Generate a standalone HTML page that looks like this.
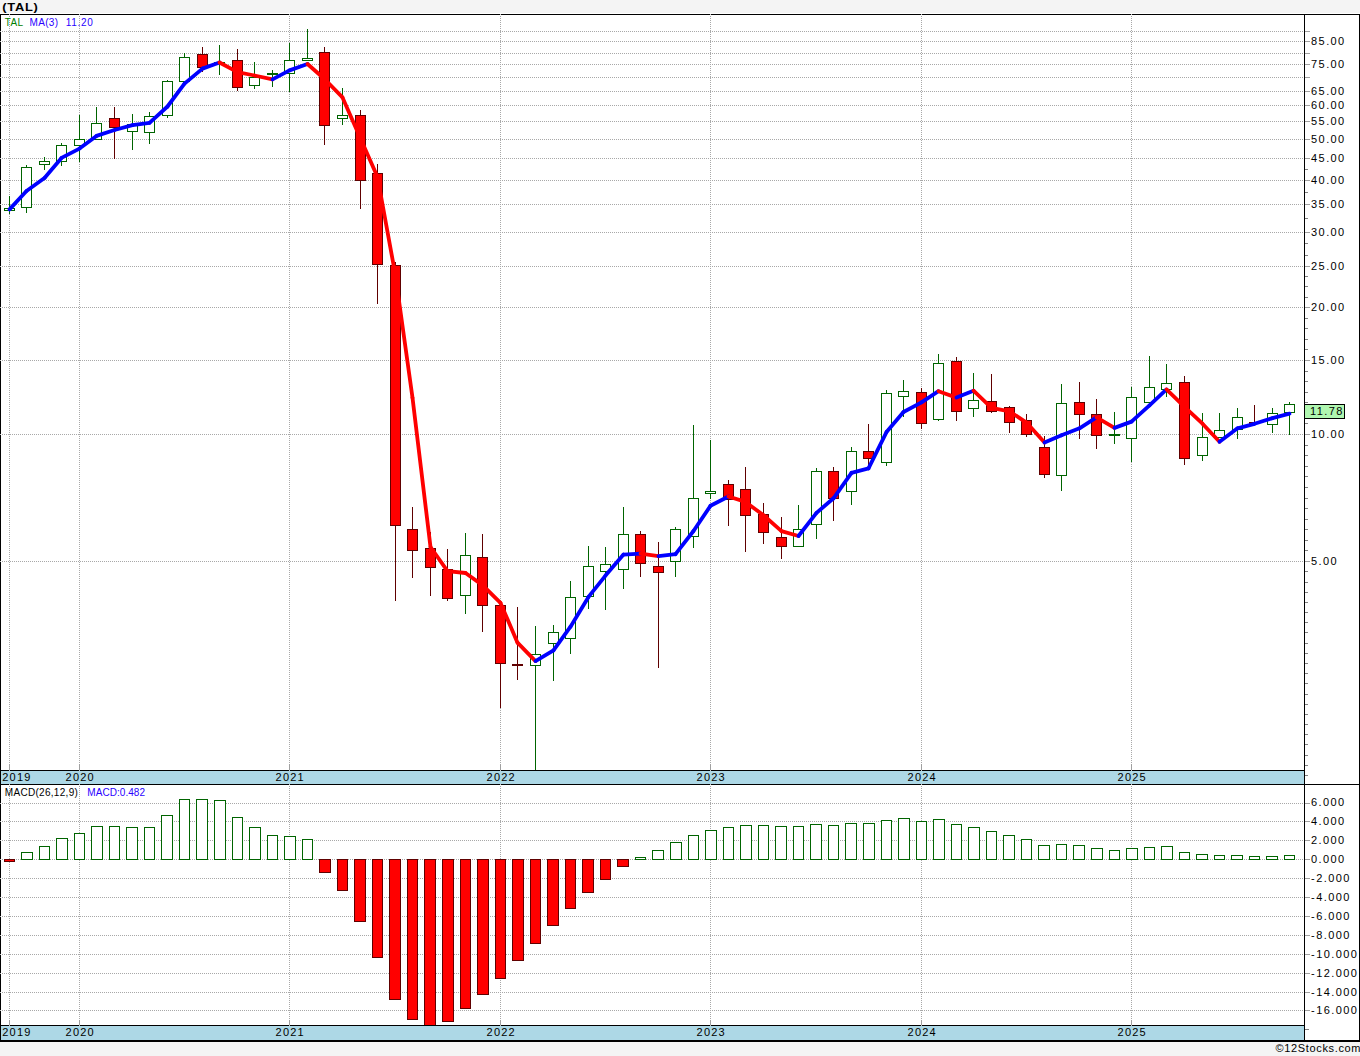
<!DOCTYPE html><html><head><meta charset="utf-8"><style>html,body{margin:0;padding:0;width:1360px;height:1056px;overflow:hidden;background:#f4f4f4}svg text{font-family:"Liberation Sans",sans-serif}</style></head><body><svg width="1360" height="1056" viewBox="0 0 1360 1056" style="position:absolute;left:0;top:0"><rect x="0" y="0" width="1360" height="1056" fill="#f4f4f4"/><rect x="0" y="13" width="1360" height="1" fill="#ffffff"/><rect x="0" y="14" width="1360" height="1028" fill="#ffffff"/><path d="M2 31.5H1304 M2 41.5H1304 M2 53.5H1304 M2 64.5H1304 M2 77.5H1304 M2 91.5H1304 M2 105.5H1304 M2 121.5H1304 M2 139.5H1304 M2 158.5H1304 M2 180.5H1304 M2 204.5H1304 M2 232.5H1304 M2 266.5H1304 M2 307.5H1304 M2 360.5H1304 M2 434.5H1304 M2 561.5H1304 M2 803.5H1304 M2 821.5H1304 M2 840.5H1304 M2 859.5H1304 M2 878.5H1304 M2 897.5H1304 M2 916.5H1304 M2 935.5H1304 M2 954.5H1304 M2 973.5H1304 M2 992.5H1304 M2 1010.5H1304 M9.5 16V770 M9.5 786V1025 M79.5 16V770 M79.5 786V1025 M289.5 16V770 M289.5 786V1025 M500.5 16V770 M500.5 786V1025 M710.5 16V770 M710.5 786V1025 M921.5 16V770 M921.5 786V1025 M1131.5 16V770 M1131.5 786V1025" stroke="#a8a8a8" stroke-width="1" stroke-dasharray="1 1" fill="none" shape-rendering="crispEdges"/><g shape-rendering="crispEdges"><rect x="9" y="764" width="1" height="6" fill="#a0a0a0"/><rect x="9" y="1020" width="1" height="5" fill="#a0a0a0"/><rect x="79" y="764" width="1" height="6" fill="#a0a0a0"/><rect x="79" y="1020" width="1" height="5" fill="#a0a0a0"/><rect x="289" y="764" width="1" height="6" fill="#a0a0a0"/><rect x="289" y="1020" width="1" height="5" fill="#a0a0a0"/><rect x="500" y="764" width="1" height="6" fill="#a0a0a0"/><rect x="500" y="1020" width="1" height="5" fill="#a0a0a0"/><rect x="710" y="764" width="1" height="6" fill="#a0a0a0"/><rect x="710" y="1020" width="1" height="5" fill="#a0a0a0"/><rect x="921" y="764" width="1" height="6" fill="#a0a0a0"/><rect x="921" y="1020" width="1" height="5" fill="#a0a0a0"/><rect x="1131" y="764" width="1" height="6" fill="#a0a0a0"/><rect x="1131" y="1020" width="1" height="5" fill="#a0a0a0"/><rect x="9" y="196" width="1" height="12" fill="#006400"/><rect x="9" y="211" width="1" height="3" fill="#006400"/><rect x="4.5" y="208.5" width="10" height="2" fill="#ffffff" stroke="#006400" stroke-width="1"/><rect x="26" y="165" width="1" height="2" fill="#006400"/><rect x="26" y="208" width="1" height="5" fill="#006400"/><rect x="21.5" y="167.5" width="10" height="40" fill="#ffffff" stroke="#006400" stroke-width="1"/><rect x="44" y="157" width="1" height="4" fill="#006400"/><rect x="44" y="165" width="1" height="5" fill="#006400"/><rect x="39.5" y="161.5" width="10" height="3" fill="#ffffff" stroke="#006400" stroke-width="1"/><rect x="61" y="143" width="1" height="2" fill="#006400"/><rect x="61" y="162" width="1" height="4" fill="#006400"/><rect x="56.5" y="145.5" width="10" height="16" fill="#ffffff" stroke="#006400" stroke-width="1"/><rect x="79" y="115" width="1" height="24" fill="#006400"/><rect x="79" y="146" width="1" height="16" fill="#006400"/><rect x="74.5" y="139.5" width="10" height="6" fill="#ffffff" stroke="#006400" stroke-width="1"/><rect x="96" y="107" width="1" height="16" fill="#006400"/><rect x="91.5" y="123.5" width="10" height="16" fill="#ffffff" stroke="#006400" stroke-width="1"/><rect x="114" y="107" width="1" height="11" fill="#600000"/><rect x="114" y="128" width="1" height="31" fill="#600000"/><rect x="109.5" y="118.5" width="10" height="9" fill="#ff0000" stroke="#600000" stroke-width="1"/><rect x="132" y="114" width="1" height="10" fill="#006400"/><rect x="132" y="132" width="1" height="18" fill="#006400"/><rect x="127.5" y="124.5" width="10" height="7" fill="#ffffff" stroke="#006400" stroke-width="1"/><rect x="149" y="112" width="1" height="4" fill="#006400"/><rect x="149" y="133" width="1" height="11" fill="#006400"/><rect x="144.5" y="116.5" width="10" height="16" fill="#ffffff" stroke="#006400" stroke-width="1"/><rect x="167" y="80" width="1" height="1" fill="#006400"/><rect x="167" y="116" width="1" height="2" fill="#006400"/><rect x="162.5" y="81.5" width="10" height="34" fill="#ffffff" stroke="#006400" stroke-width="1"/><rect x="184" y="53" width="1" height="4" fill="#006400"/><rect x="179.5" y="57.5" width="10" height="24" fill="#ffffff" stroke="#006400" stroke-width="1"/><rect x="202" y="47" width="1" height="7" fill="#600000"/><rect x="202" y="68" width="1" height="4" fill="#600000"/><rect x="197.5" y="54.5" width="10" height="13" fill="#ff0000" stroke="#600000" stroke-width="1"/><rect x="219" y="45" width="1" height="17" fill="#006400"/><rect x="219" y="63" width="1" height="12" fill="#006400"/><rect x="214" y="62" width="11" height="2" fill="#006400"/><rect x="237" y="49" width="1" height="11" fill="#600000"/><rect x="237" y="88" width="1" height="3" fill="#600000"/><rect x="232.5" y="60.5" width="10" height="27" fill="#ff0000" stroke="#600000" stroke-width="1"/><rect x="254" y="62" width="1" height="15" fill="#006400"/><rect x="254" y="86" width="1" height="3" fill="#006400"/><rect x="249.5" y="77.5" width="10" height="8" fill="#ffffff" stroke="#006400" stroke-width="1"/><rect x="272" y="70" width="1" height="3" fill="#006400"/><rect x="272" y="75" width="1" height="12" fill="#006400"/><rect x="267" y="73" width="11" height="2" fill="#006400"/><rect x="289" y="43" width="1" height="17" fill="#006400"/><rect x="289" y="74" width="1" height="18" fill="#006400"/><rect x="284.5" y="60.5" width="10" height="13" fill="#ffffff" stroke="#006400" stroke-width="1"/><rect x="307" y="29" width="1" height="29" fill="#006400"/><rect x="302.5" y="58.5" width="10" height="2" fill="#ffffff" stroke="#006400" stroke-width="1"/><rect x="324" y="47" width="1" height="5" fill="#600000"/><rect x="324" y="126" width="1" height="19" fill="#600000"/><rect x="319.5" y="52.5" width="10" height="73" fill="#ff0000" stroke="#600000" stroke-width="1"/><rect x="342" y="88" width="1" height="27" fill="#006400"/><rect x="342" y="119" width="1" height="6" fill="#006400"/><rect x="337.5" y="115.5" width="10" height="3" fill="#ffffff" stroke="#006400" stroke-width="1"/><rect x="360" y="110" width="1" height="5" fill="#600000"/><rect x="360" y="181" width="1" height="28" fill="#600000"/><rect x="355.5" y="115.5" width="10" height="65" fill="#ff0000" stroke="#600000" stroke-width="1"/><rect x="377" y="164" width="1" height="9" fill="#600000"/><rect x="377" y="265" width="1" height="39" fill="#600000"/><rect x="372.5" y="173.5" width="10" height="91" fill="#ff0000" stroke="#600000" stroke-width="1"/><rect x="395" y="262" width="1" height="3" fill="#600000"/><rect x="395" y="526" width="1" height="75" fill="#600000"/><rect x="390.5" y="265.5" width="10" height="260" fill="#ff0000" stroke="#600000" stroke-width="1"/><rect x="412" y="507" width="1" height="22" fill="#600000"/><rect x="412" y="551" width="1" height="27" fill="#600000"/><rect x="407.5" y="529.5" width="10" height="21" fill="#ff0000" stroke="#600000" stroke-width="1"/><rect x="430" y="532" width="1" height="16" fill="#600000"/><rect x="430" y="568" width="1" height="28" fill="#600000"/><rect x="425.5" y="548.5" width="10" height="19" fill="#ff0000" stroke="#600000" stroke-width="1"/><rect x="447" y="549" width="1" height="20" fill="#600000"/><rect x="447" y="599" width="1" height="2" fill="#600000"/><rect x="442.5" y="569.5" width="10" height="29" fill="#ff0000" stroke="#600000" stroke-width="1"/><rect x="465" y="533" width="1" height="22" fill="#006400"/><rect x="465" y="596" width="1" height="18" fill="#006400"/><rect x="460.5" y="555.5" width="10" height="40" fill="#ffffff" stroke="#006400" stroke-width="1"/><rect x="482" y="534" width="1" height="23" fill="#600000"/><rect x="482" y="606" width="1" height="26" fill="#600000"/><rect x="477.5" y="557.5" width="10" height="48" fill="#ff0000" stroke="#600000" stroke-width="1"/><rect x="500" y="664" width="1" height="44" fill="#600000"/><rect x="495.5" y="605.5" width="10" height="58" fill="#ff0000" stroke="#600000" stroke-width="1"/><rect x="517" y="607" width="1" height="57" fill="#600000"/><rect x="517" y="666" width="1" height="14" fill="#600000"/><rect x="512" y="664" width="11" height="2" fill="#600000"/><rect x="535" y="626" width="1" height="28" fill="#006400"/><rect x="535" y="666" width="1" height="105" fill="#006400"/><rect x="530.5" y="654.5" width="10" height="11" fill="#ffffff" stroke="#006400" stroke-width="1"/><rect x="553" y="625" width="1" height="7" fill="#006400"/><rect x="553" y="644" width="1" height="37" fill="#006400"/><rect x="548.5" y="632.5" width="10" height="11" fill="#ffffff" stroke="#006400" stroke-width="1"/><rect x="570" y="581" width="1" height="16" fill="#006400"/><rect x="570" y="639" width="1" height="15" fill="#006400"/><rect x="565.5" y="597.5" width="10" height="41" fill="#ffffff" stroke="#006400" stroke-width="1"/><rect x="588" y="546" width="1" height="20" fill="#006400"/><rect x="588" y="597" width="1" height="12" fill="#006400"/><rect x="583.5" y="566.5" width="10" height="30" fill="#ffffff" stroke="#006400" stroke-width="1"/><rect x="605" y="547" width="1" height="17" fill="#006400"/><rect x="605" y="572" width="1" height="38" fill="#006400"/><rect x="600.5" y="564.5" width="10" height="7" fill="#ffffff" stroke="#006400" stroke-width="1"/><rect x="623" y="507" width="1" height="27" fill="#006400"/><rect x="623" y="570" width="1" height="19" fill="#006400"/><rect x="618.5" y="534.5" width="10" height="35" fill="#ffffff" stroke="#006400" stroke-width="1"/><rect x="640" y="531" width="1" height="3" fill="#600000"/><rect x="640" y="564" width="1" height="13" fill="#600000"/><rect x="635.5" y="534.5" width="10" height="29" fill="#ff0000" stroke="#600000" stroke-width="1"/><rect x="658" y="542" width="1" height="24" fill="#600000"/><rect x="658" y="573" width="1" height="95" fill="#600000"/><rect x="653.5" y="566.5" width="10" height="6" fill="#ff0000" stroke="#600000" stroke-width="1"/><rect x="675" y="527" width="1" height="2" fill="#006400"/><rect x="675" y="562" width="1" height="15" fill="#006400"/><rect x="670.5" y="529.5" width="10" height="32" fill="#ffffff" stroke="#006400" stroke-width="1"/><rect x="693" y="425" width="1" height="73" fill="#006400"/><rect x="693" y="537" width="1" height="11" fill="#006400"/><rect x="688.5" y="498.5" width="10" height="38" fill="#ffffff" stroke="#006400" stroke-width="1"/><rect x="710" y="440" width="1" height="51" fill="#006400"/><rect x="710" y="494" width="1" height="5" fill="#006400"/><rect x="705.5" y="491.5" width="10" height="2" fill="#ffffff" stroke="#006400" stroke-width="1"/><rect x="728" y="480" width="1" height="4" fill="#600000"/><rect x="728" y="500" width="1" height="26" fill="#600000"/><rect x="723.5" y="484.5" width="10" height="15" fill="#ff0000" stroke="#600000" stroke-width="1"/><rect x="745" y="467" width="1" height="22" fill="#600000"/><rect x="745" y="516" width="1" height="36" fill="#600000"/><rect x="740.5" y="489.5" width="10" height="26" fill="#ff0000" stroke="#600000" stroke-width="1"/><rect x="763" y="503" width="1" height="11" fill="#600000"/><rect x="763" y="533" width="1" height="11" fill="#600000"/><rect x="758.5" y="514.5" width="10" height="18" fill="#ff0000" stroke="#600000" stroke-width="1"/><rect x="781" y="517" width="1" height="20" fill="#600000"/><rect x="781" y="547" width="1" height="12" fill="#600000"/><rect x="776.5" y="537.5" width="10" height="9" fill="#ff0000" stroke="#600000" stroke-width="1"/><rect x="798" y="505" width="1" height="24" fill="#006400"/><rect x="793.5" y="529.5" width="10" height="17" fill="#ffffff" stroke="#006400" stroke-width="1"/><rect x="816" y="468" width="1" height="3" fill="#006400"/><rect x="816" y="525" width="1" height="14" fill="#006400"/><rect x="811.5" y="471.5" width="10" height="53" fill="#ffffff" stroke="#006400" stroke-width="1"/><rect x="833" y="467" width="1" height="4" fill="#600000"/><rect x="833" y="499" width="1" height="22" fill="#600000"/><rect x="828.5" y="471.5" width="10" height="27" fill="#ff0000" stroke="#600000" stroke-width="1"/><rect x="851" y="447" width="1" height="4" fill="#006400"/><rect x="851" y="492" width="1" height="13" fill="#006400"/><rect x="846.5" y="451.5" width="10" height="40" fill="#ffffff" stroke="#006400" stroke-width="1"/><rect x="868" y="424" width="1" height="27" fill="#600000"/><rect x="868" y="459" width="1" height="7" fill="#600000"/><rect x="863.5" y="451.5" width="10" height="7" fill="#ff0000" stroke="#600000" stroke-width="1"/><rect x="886" y="390" width="1" height="3" fill="#006400"/><rect x="886" y="463" width="1" height="3" fill="#006400"/><rect x="881.5" y="393.5" width="10" height="69" fill="#ffffff" stroke="#006400" stroke-width="1"/><rect x="903" y="380" width="1" height="11" fill="#006400"/><rect x="903" y="397" width="1" height="20" fill="#006400"/><rect x="898.5" y="391.5" width="10" height="5" fill="#ffffff" stroke="#006400" stroke-width="1"/><rect x="921" y="388" width="1" height="4" fill="#600000"/><rect x="921" y="424" width="1" height="5" fill="#600000"/><rect x="916.5" y="392.5" width="10" height="31" fill="#ff0000" stroke="#600000" stroke-width="1"/><rect x="938" y="354" width="1" height="9" fill="#006400"/><rect x="938" y="420" width="1" height="1" fill="#006400"/><rect x="933.5" y="363.5" width="10" height="56" fill="#ffffff" stroke="#006400" stroke-width="1"/><rect x="956" y="357" width="1" height="4" fill="#600000"/><rect x="956" y="412" width="1" height="9" fill="#600000"/><rect x="951.5" y="361.5" width="10" height="50" fill="#ff0000" stroke="#600000" stroke-width="1"/><rect x="973" y="373" width="1" height="27" fill="#006400"/><rect x="973" y="409" width="1" height="8" fill="#006400"/><rect x="968.5" y="400.5" width="10" height="8" fill="#ffffff" stroke="#006400" stroke-width="1"/><rect x="991" y="374" width="1" height="27" fill="#600000"/><rect x="991" y="412" width="1" height="1" fill="#600000"/><rect x="986.5" y="401.5" width="10" height="10" fill="#ff0000" stroke="#600000" stroke-width="1"/><rect x="1009" y="406" width="1" height="1" fill="#600000"/><rect x="1009" y="423" width="1" height="10" fill="#600000"/><rect x="1004.5" y="407.5" width="10" height="15" fill="#ff0000" stroke="#600000" stroke-width="1"/><rect x="1026" y="414" width="1" height="6" fill="#600000"/><rect x="1026" y="435" width="1" height="2" fill="#600000"/><rect x="1021.5" y="420.5" width="10" height="14" fill="#ff0000" stroke="#600000" stroke-width="1"/><rect x="1044" y="436" width="1" height="11" fill="#600000"/><rect x="1044" y="475" width="1" height="3" fill="#600000"/><rect x="1039.5" y="447.5" width="10" height="27" fill="#ff0000" stroke="#600000" stroke-width="1"/><rect x="1061" y="384" width="1" height="19" fill="#006400"/><rect x="1061" y="476" width="1" height="15" fill="#006400"/><rect x="1056.5" y="403.5" width="10" height="72" fill="#ffffff" stroke="#006400" stroke-width="1"/><rect x="1079" y="382" width="1" height="20" fill="#600000"/><rect x="1079" y="415" width="1" height="24" fill="#600000"/><rect x="1074.5" y="402.5" width="10" height="12" fill="#ff0000" stroke="#600000" stroke-width="1"/><rect x="1096" y="399" width="1" height="15" fill="#600000"/><rect x="1096" y="436" width="1" height="13" fill="#600000"/><rect x="1091.5" y="414.5" width="10" height="21" fill="#ff0000" stroke="#600000" stroke-width="1"/><rect x="1114" y="412" width="1" height="22" fill="#006400"/><rect x="1114" y="435" width="1" height="9" fill="#006400"/><rect x="1109" y="434" width="11" height="2" fill="#006400"/><rect x="1131" y="387" width="1" height="10" fill="#006400"/><rect x="1131" y="439" width="1" height="23" fill="#006400"/><rect x="1126.5" y="397.5" width="10" height="41" fill="#ffffff" stroke="#006400" stroke-width="1"/><rect x="1149" y="356" width="1" height="31" fill="#006400"/><rect x="1144.5" y="387.5" width="10" height="15" fill="#ffffff" stroke="#006400" stroke-width="1"/><rect x="1166" y="364" width="1" height="19" fill="#006400"/><rect x="1166" y="390" width="1" height="7" fill="#006400"/><rect x="1161.5" y="383.5" width="10" height="6" fill="#ffffff" stroke="#006400" stroke-width="1"/><rect x="1184" y="376" width="1" height="6" fill="#600000"/><rect x="1184" y="459" width="1" height="6" fill="#600000"/><rect x="1179.5" y="382.5" width="10" height="76" fill="#ff0000" stroke="#600000" stroke-width="1"/><rect x="1202" y="413" width="1" height="24" fill="#006400"/><rect x="1202" y="456" width="1" height="5" fill="#006400"/><rect x="1197.5" y="437.5" width="10" height="18" fill="#ffffff" stroke="#006400" stroke-width="1"/><rect x="1219" y="413" width="1" height="17" fill="#006400"/><rect x="1214.5" y="430.5" width="10" height="7" fill="#ffffff" stroke="#006400" stroke-width="1"/><rect x="1237" y="408" width="1" height="9" fill="#006400"/><rect x="1237" y="430" width="1" height="9" fill="#006400"/><rect x="1232.5" y="417.5" width="10" height="12" fill="#ffffff" stroke="#006400" stroke-width="1"/><rect x="1254" y="405" width="1" height="17" fill="#600000"/><rect x="1249" y="422" width="11" height="2" fill="#600000"/><rect x="1272" y="408" width="1" height="5" fill="#006400"/><rect x="1272" y="425" width="1" height="8" fill="#006400"/><rect x="1267.5" y="413.5" width="10" height="11" fill="#ffffff" stroke="#006400" stroke-width="1"/><rect x="1289" y="402" width="1" height="2" fill="#006400"/><rect x="1289" y="413" width="1" height="22" fill="#006400"/><rect x="1284.5" y="404.5" width="10" height="8" fill="#ffffff" stroke="#006400" stroke-width="1"/><rect x="4.5" y="859.5" width="10" height="2" fill="#ff0000" stroke="#600000" stroke-width="1"/><rect x="21.5" y="852.5" width="11" height="7" fill="#ffffff" stroke="#006400" stroke-width="1"/><rect x="39.5" y="846.5" width="10" height="13" fill="#ffffff" stroke="#006400" stroke-width="1"/><rect x="56.5" y="838.5" width="11" height="21" fill="#ffffff" stroke="#006400" stroke-width="1"/><rect x="74.5" y="833.5" width="10" height="26" fill="#ffffff" stroke="#006400" stroke-width="1"/><rect x="91.5" y="826.5" width="11" height="33" fill="#ffffff" stroke="#006400" stroke-width="1"/><rect x="109.5" y="826.5" width="10" height="33" fill="#ffffff" stroke="#006400" stroke-width="1"/><rect x="126.5" y="827.5" width="11" height="32" fill="#ffffff" stroke="#006400" stroke-width="1"/><rect x="144.5" y="827.5" width="10" height="32" fill="#ffffff" stroke="#006400" stroke-width="1"/><rect x="161.5" y="815.5" width="11" height="44" fill="#ffffff" stroke="#006400" stroke-width="1"/><rect x="179.5" y="799.5" width="10" height="60" fill="#ffffff" stroke="#006400" stroke-width="1"/><rect x="196.5" y="799.5" width="11" height="60" fill="#ffffff" stroke="#006400" stroke-width="1"/><rect x="214.5" y="800.5" width="11" height="59" fill="#ffffff" stroke="#006400" stroke-width="1"/><rect x="232.5" y="817.5" width="10" height="42" fill="#ffffff" stroke="#006400" stroke-width="1"/><rect x="249.5" y="827.5" width="11" height="32" fill="#ffffff" stroke="#006400" stroke-width="1"/><rect x="267.5" y="835.5" width="10" height="24" fill="#ffffff" stroke="#006400" stroke-width="1"/><rect x="284.5" y="836.5" width="11" height="23" fill="#ffffff" stroke="#006400" stroke-width="1"/><rect x="302.5" y="839.5" width="10" height="20" fill="#ffffff" stroke="#006400" stroke-width="1"/><rect x="319.5" y="859.5" width="11" height="13" fill="#ff0000" stroke="#600000" stroke-width="1"/><rect x="337.5" y="859.5" width="10" height="31" fill="#ff0000" stroke="#600000" stroke-width="1"/><rect x="354.5" y="859.5" width="11" height="62" fill="#ff0000" stroke="#600000" stroke-width="1"/><rect x="372.5" y="859.5" width="10" height="98" fill="#ff0000" stroke="#600000" stroke-width="1"/><rect x="389.5" y="859.5" width="11" height="140" fill="#ff0000" stroke="#600000" stroke-width="1"/><rect x="407.5" y="859.5" width="10" height="160" fill="#ff0000" stroke="#600000" stroke-width="1"/><rect x="424.5" y="859.5" width="11" height="166" fill="#ff0000" stroke="#600000" stroke-width="1"/><rect x="442.5" y="859.5" width="11" height="162" fill="#ff0000" stroke="#600000" stroke-width="1"/><rect x="460.5" y="859.5" width="10" height="149" fill="#ff0000" stroke="#600000" stroke-width="1"/><rect x="477.5" y="859.5" width="11" height="135" fill="#ff0000" stroke="#600000" stroke-width="1"/><rect x="495.5" y="859.5" width="10" height="119" fill="#ff0000" stroke="#600000" stroke-width="1"/><rect x="512.5" y="859.5" width="11" height="101" fill="#ff0000" stroke="#600000" stroke-width="1"/><rect x="530.5" y="859.5" width="10" height="84" fill="#ff0000" stroke="#600000" stroke-width="1"/><rect x="547.5" y="859.5" width="11" height="66" fill="#ff0000" stroke="#600000" stroke-width="1"/><rect x="565.5" y="859.5" width="10" height="49" fill="#ff0000" stroke="#600000" stroke-width="1"/><rect x="582.5" y="859.5" width="11" height="33" fill="#ff0000" stroke="#600000" stroke-width="1"/><rect x="600.5" y="859.5" width="10" height="20" fill="#ff0000" stroke="#600000" stroke-width="1"/><rect x="617.5" y="859.5" width="11" height="7" fill="#ff0000" stroke="#600000" stroke-width="1"/><rect x="635.5" y="857.5" width="10" height="2" fill="#ffffff" stroke="#006400" stroke-width="1"/><rect x="652.5" y="850.5" width="11" height="9" fill="#ffffff" stroke="#006400" stroke-width="1"/><rect x="670.5" y="842.5" width="11" height="17" fill="#ffffff" stroke="#006400" stroke-width="1"/><rect x="688.5" y="835.5" width="10" height="24" fill="#ffffff" stroke="#006400" stroke-width="1"/><rect x="705.5" y="830.5" width="11" height="29" fill="#ffffff" stroke="#006400" stroke-width="1"/><rect x="723.5" y="827.5" width="10" height="32" fill="#ffffff" stroke="#006400" stroke-width="1"/><rect x="740.5" y="825.5" width="11" height="34" fill="#ffffff" stroke="#006400" stroke-width="1"/><rect x="758.5" y="825.5" width="10" height="34" fill="#ffffff" stroke="#006400" stroke-width="1"/><rect x="775.5" y="826.5" width="11" height="33" fill="#ffffff" stroke="#006400" stroke-width="1"/><rect x="793.5" y="826.5" width="10" height="33" fill="#ffffff" stroke="#006400" stroke-width="1"/><rect x="810.5" y="824.5" width="11" height="35" fill="#ffffff" stroke="#006400" stroke-width="1"/><rect x="828.5" y="825.5" width="10" height="34" fill="#ffffff" stroke="#006400" stroke-width="1"/><rect x="845.5" y="823.5" width="11" height="36" fill="#ffffff" stroke="#006400" stroke-width="1"/><rect x="863.5" y="823.5" width="11" height="36" fill="#ffffff" stroke="#006400" stroke-width="1"/><rect x="881.5" y="820.5" width="10" height="39" fill="#ffffff" stroke="#006400" stroke-width="1"/><rect x="898.5" y="818.5" width="11" height="41" fill="#ffffff" stroke="#006400" stroke-width="1"/><rect x="916.5" y="821.5" width="10" height="38" fill="#ffffff" stroke="#006400" stroke-width="1"/><rect x="933.5" y="819.5" width="11" height="40" fill="#ffffff" stroke="#006400" stroke-width="1"/><rect x="951.5" y="824.5" width="10" height="35" fill="#ffffff" stroke="#006400" stroke-width="1"/><rect x="968.5" y="827.5" width="11" height="32" fill="#ffffff" stroke="#006400" stroke-width="1"/><rect x="986.5" y="831.5" width="10" height="28" fill="#ffffff" stroke="#006400" stroke-width="1"/><rect x="1003.5" y="835.5" width="11" height="24" fill="#ffffff" stroke="#006400" stroke-width="1"/><rect x="1021.5" y="839.5" width="10" height="20" fill="#ffffff" stroke="#006400" stroke-width="1"/><rect x="1038.5" y="845.5" width="11" height="14" fill="#ffffff" stroke="#006400" stroke-width="1"/><rect x="1056.5" y="844.5" width="10" height="15" fill="#ffffff" stroke="#006400" stroke-width="1"/><rect x="1073.5" y="845.5" width="11" height="14" fill="#ffffff" stroke="#006400" stroke-width="1"/><rect x="1091.5" y="848.5" width="11" height="11" fill="#ffffff" stroke="#006400" stroke-width="1"/><rect x="1109.5" y="850.5" width="10" height="9" fill="#ffffff" stroke="#006400" stroke-width="1"/><rect x="1126.5" y="848.5" width="11" height="11" fill="#ffffff" stroke="#006400" stroke-width="1"/><rect x="1144.5" y="847.5" width="10" height="12" fill="#ffffff" stroke="#006400" stroke-width="1"/><rect x="1161.5" y="846.5" width="11" height="13" fill="#ffffff" stroke="#006400" stroke-width="1"/><rect x="1179.5" y="852.5" width="10" height="7" fill="#ffffff" stroke="#006400" stroke-width="1"/><rect x="1196.5" y="854.5" width="11" height="5" fill="#ffffff" stroke="#006400" stroke-width="1"/><rect x="1214.5" y="855.5" width="10" height="4" fill="#ffffff" stroke="#006400" stroke-width="1"/><rect x="1231.5" y="855.5" width="11" height="4" fill="#ffffff" stroke="#006400" stroke-width="1"/><rect x="1249.5" y="856.5" width="10" height="3" fill="#ffffff" stroke="#006400" stroke-width="1"/><rect x="1266.5" y="856.5" width="11" height="3" fill="#ffffff" stroke="#006400" stroke-width="1"/><rect x="1284.5" y="855.5" width="10" height="4" fill="#ffffff" stroke="#006400" stroke-width="1"/></g><line x1="9.5" y1="209.4" x2="26.5" y2="191.0" stroke="#0000ff" stroke-width="3.8" stroke-linecap="round"/><line x1="26.5" y1="191.0" x2="44.5" y2="178.0" stroke="#0000ff" stroke-width="3.8" stroke-linecap="round"/><line x1="44.5" y1="178.0" x2="61.5" y2="157.9" stroke="#0000ff" stroke-width="3.8" stroke-linecap="round"/><line x1="61.5" y1="157.9" x2="79.5" y2="148.6" stroke="#0000ff" stroke-width="3.8" stroke-linecap="round"/><line x1="79.5" y1="148.6" x2="96.5" y2="135.9" stroke="#0000ff" stroke-width="3.8" stroke-linecap="round"/><line x1="96.5" y1="135.9" x2="114.5" y2="130.0" stroke="#0000ff" stroke-width="3.8" stroke-linecap="round"/><line x1="114.5" y1="130.0" x2="132.5" y2="125.2" stroke="#0000ff" stroke-width="3.8" stroke-linecap="round"/><line x1="132.5" y1="125.2" x2="149.5" y2="122.8" stroke="#0000ff" stroke-width="3.8" stroke-linecap="round"/><line x1="149.5" y1="122.8" x2="167.5" y2="106.5" stroke="#0000ff" stroke-width="3.8" stroke-linecap="round"/><line x1="167.5" y1="106.5" x2="184.5" y2="83.6" stroke="#0000ff" stroke-width="3.8" stroke-linecap="round"/><line x1="184.5" y1="83.6" x2="202.5" y2="68.6" stroke="#0000ff" stroke-width="3.8" stroke-linecap="round"/><line x1="202.5" y1="68.6" x2="219.5" y2="62.5" stroke="#0000ff" stroke-width="3.8" stroke-linecap="round"/><line x1="219.5" y1="62.5" x2="237.5" y2="72.2" stroke="#ff0000" stroke-width="3.8" stroke-linecap="round"/><line x1="237.5" y1="72.2" x2="254.5" y2="75.5" stroke="#ff0000" stroke-width="3.8" stroke-linecap="round"/><line x1="254.5" y1="75.5" x2="272.5" y2="79.4" stroke="#ff0000" stroke-width="3.8" stroke-linecap="round"/><line x1="272.5" y1="79.4" x2="289.5" y2="70.4" stroke="#0000ff" stroke-width="3.8" stroke-linecap="round"/><line x1="289.5" y1="70.4" x2="307.5" y2="64.0" stroke="#0000ff" stroke-width="3.8" stroke-linecap="round"/><line x1="307.5" y1="64.0" x2="324.5" y2="79.0" stroke="#ff0000" stroke-width="3.8" stroke-linecap="round"/><line x1="324.5" y1="79.0" x2="342.5" y2="97.4" stroke="#ff0000" stroke-width="3.8" stroke-linecap="round"/><line x1="342.5" y1="97.4" x2="360.5" y2="138.4" stroke="#ff0000" stroke-width="3.8" stroke-linecap="round"/><line x1="360.5" y1="138.4" x2="377.5" y2="177.0" stroke="#ff0000" stroke-width="3.8" stroke-linecap="round"/><line x1="377.5" y1="177.0" x2="395.5" y2="275.7" stroke="#ff0000" stroke-width="3.8" stroke-linecap="round"/><line x1="395.5" y1="275.7" x2="412.5" y2="397.7" stroke="#ff0000" stroke-width="3.8" stroke-linecap="round"/><line x1="412.5" y1="397.7" x2="430.5" y2="547.0" stroke="#ff0000" stroke-width="3.8" stroke-linecap="round"/><line x1="430.5" y1="547.0" x2="447.5" y2="571.1" stroke="#ff0000" stroke-width="3.8" stroke-linecap="round"/><line x1="447.5" y1="571.1" x2="465.5" y2="573.0" stroke="#ff0000" stroke-width="3.8" stroke-linecap="round"/><line x1="465.5" y1="573.0" x2="482.5" y2="585.1" stroke="#ff0000" stroke-width="3.8" stroke-linecap="round"/><line x1="482.5" y1="585.1" x2="500.5" y2="602.9" stroke="#ff0000" stroke-width="3.8" stroke-linecap="round"/><line x1="500.5" y1="602.9" x2="517.5" y2="642.7" stroke="#ff0000" stroke-width="3.8" stroke-linecap="round"/><line x1="517.5" y1="642.7" x2="535.5" y2="661.1" stroke="#ff0000" stroke-width="3.8" stroke-linecap="round"/><line x1="535.5" y1="661.1" x2="553.5" y2="650.3" stroke="#0000ff" stroke-width="3.8" stroke-linecap="round"/><line x1="553.5" y1="650.3" x2="570.5" y2="626.7" stroke="#0000ff" stroke-width="3.8" stroke-linecap="round"/><line x1="570.5" y1="626.7" x2="588.5" y2="596.9" stroke="#0000ff" stroke-width="3.8" stroke-linecap="round"/><line x1="588.5" y1="596.9" x2="605.5" y2="575.6" stroke="#0000ff" stroke-width="3.8" stroke-linecap="round"/><line x1="605.5" y1="575.6" x2="623.5" y2="554.6" stroke="#0000ff" stroke-width="3.8" stroke-linecap="round"/><line x1="623.5" y1="554.6" x2="640.5" y2="553.6" stroke="#0000ff" stroke-width="3.8" stroke-linecap="round"/><line x1="640.5" y1="553.6" x2="658.5" y2="556.1" stroke="#ff0000" stroke-width="3.8" stroke-linecap="round"/><line x1="658.5" y1="556.1" x2="675.5" y2="554.2" stroke="#0000ff" stroke-width="3.8" stroke-linecap="round"/><line x1="675.5" y1="554.2" x2="693.5" y2="531.0" stroke="#0000ff" stroke-width="3.8" stroke-linecap="round"/><line x1="693.5" y1="531.0" x2="710.5" y2="505.8" stroke="#0000ff" stroke-width="3.8" stroke-linecap="round"/><line x1="710.5" y1="505.8" x2="728.5" y2="496.5" stroke="#0000ff" stroke-width="3.8" stroke-linecap="round"/><line x1="728.5" y1="496.5" x2="745.5" y2="501.9" stroke="#ff0000" stroke-width="3.8" stroke-linecap="round"/><line x1="745.5" y1="501.9" x2="763.5" y2="515.3" stroke="#ff0000" stroke-width="3.8" stroke-linecap="round"/><line x1="763.5" y1="515.3" x2="781.5" y2="531.1" stroke="#ff0000" stroke-width="3.8" stroke-linecap="round"/><line x1="781.5" y1="531.1" x2="798.5" y2="536.0" stroke="#ff0000" stroke-width="3.8" stroke-linecap="round"/><line x1="798.5" y1="536.0" x2="816.5" y2="512.9" stroke="#0000ff" stroke-width="3.8" stroke-linecap="round"/><line x1="816.5" y1="512.9" x2="833.5" y2="498.3" stroke="#0000ff" stroke-width="3.8" stroke-linecap="round"/><line x1="833.5" y1="498.3" x2="851.5" y2="472.8" stroke="#0000ff" stroke-width="3.8" stroke-linecap="round"/><line x1="851.5" y1="472.8" x2="868.5" y2="468.4" stroke="#0000ff" stroke-width="3.8" stroke-linecap="round"/><line x1="868.5" y1="468.4" x2="886.5" y2="432.1" stroke="#0000ff" stroke-width="3.8" stroke-linecap="round"/><line x1="886.5" y1="432.1" x2="903.5" y2="412.0" stroke="#0000ff" stroke-width="3.8" stroke-linecap="round"/><line x1="903.5" y1="412.0" x2="921.5" y2="402.3" stroke="#0000ff" stroke-width="3.8" stroke-linecap="round"/><line x1="921.5" y1="402.3" x2="938.5" y2="391.2" stroke="#0000ff" stroke-width="3.8" stroke-linecap="round"/><line x1="938.5" y1="391.2" x2="956.5" y2="397.6" stroke="#ff0000" stroke-width="3.8" stroke-linecap="round"/><line x1="956.5" y1="397.6" x2="973.5" y2="390.7" stroke="#0000ff" stroke-width="3.8" stroke-linecap="round"/><line x1="973.5" y1="390.7" x2="991.5" y2="407.8" stroke="#ff0000" stroke-width="3.8" stroke-linecap="round"/><line x1="991.5" y1="407.8" x2="1009.5" y2="411.3" stroke="#ff0000" stroke-width="3.8" stroke-linecap="round"/><line x1="1009.5" y1="411.3" x2="1026.5" y2="422.6" stroke="#ff0000" stroke-width="3.8" stroke-linecap="round"/><line x1="1026.5" y1="422.6" x2="1044.5" y2="442.5" stroke="#ff0000" stroke-width="3.8" stroke-linecap="round"/><line x1="1044.5" y1="442.5" x2="1061.5" y2="435.2" stroke="#0000ff" stroke-width="3.8" stroke-linecap="round"/><line x1="1061.5" y1="435.2" x2="1079.5" y2="428.3" stroke="#0000ff" stroke-width="3.8" stroke-linecap="round"/><line x1="1079.5" y1="428.3" x2="1096.5" y2="417.4" stroke="#0000ff" stroke-width="3.8" stroke-linecap="round"/><line x1="1096.5" y1="417.4" x2="1114.5" y2="427.9" stroke="#ff0000" stroke-width="3.8" stroke-linecap="round"/><line x1="1114.5" y1="427.9" x2="1131.5" y2="421.6" stroke="#0000ff" stroke-width="3.8" stroke-linecap="round"/><line x1="1131.5" y1="421.6" x2="1149.5" y2="405.4" stroke="#0000ff" stroke-width="3.8" stroke-linecap="round"/><line x1="1149.5" y1="405.4" x2="1166.5" y2="389.4" stroke="#0000ff" stroke-width="3.8" stroke-linecap="round"/><line x1="1166.5" y1="389.4" x2="1184.5" y2="406.8" stroke="#ff0000" stroke-width="3.8" stroke-linecap="round"/><line x1="1184.5" y1="406.8" x2="1202.5" y2="423.7" stroke="#ff0000" stroke-width="3.8" stroke-linecap="round"/><line x1="1202.5" y1="423.7" x2="1219.5" y2="441.8" stroke="#ff0000" stroke-width="3.8" stroke-linecap="round"/><line x1="1219.5" y1="441.8" x2="1237.5" y2="428.3" stroke="#0000ff" stroke-width="3.8" stroke-linecap="round"/><line x1="1237.5" y1="428.3" x2="1254.5" y2="423.8" stroke="#0000ff" stroke-width="3.8" stroke-linecap="round"/><line x1="1254.5" y1="423.8" x2="1272.5" y2="418.1" stroke="#0000ff" stroke-width="3.8" stroke-linecap="round"/><line x1="1272.5" y1="418.1" x2="1289.5" y2="413.7" stroke="#0000ff" stroke-width="3.8" stroke-linecap="round"/><g shape-rendering="crispEdges"><rect x="0" y="14" width="1360" height="1" fill="#000"/><rect x="0" y="14" width="1" height="1028" fill="#000"/><rect x="1359" y="14" width="1" height="1028" fill="#000"/><rect x="1304" y="14" width="1" height="1028" fill="#000"/><rect x="1" y="771" width="1303" height="13" fill="#add8e6"/><rect x="0" y="770" width="1304" height="1" fill="#000"/><rect x="0" y="784" width="1360" height="1" fill="#000"/><rect x="1" y="1026" width="1303" height="14" fill="#add8e6"/><rect x="0" y="1025" width="1304" height="1" fill="#000"/><rect x="0" y="1040" width="1360" height="2" fill="#000"/><rect x="1305" y="31" width="5" height="1" fill="#a0a0a0"/><rect x="1305" y="41" width="5" height="1" fill="#a0a0a0"/><rect x="1305" y="53" width="5" height="1" fill="#a0a0a0"/><rect x="1305" y="64" width="5" height="1" fill="#a0a0a0"/><rect x="1305" y="77" width="5" height="1" fill="#a0a0a0"/><rect x="1305" y="91" width="5" height="1" fill="#a0a0a0"/><rect x="1305" y="105" width="5" height="1" fill="#a0a0a0"/><rect x="1305" y="121" width="5" height="1" fill="#a0a0a0"/><rect x="1305" y="139" width="5" height="1" fill="#a0a0a0"/><rect x="1305" y="158" width="5" height="1" fill="#a0a0a0"/><rect x="1305" y="180" width="5" height="1" fill="#a0a0a0"/><rect x="1305" y="204" width="5" height="1" fill="#a0a0a0"/><rect x="1305" y="232" width="5" height="1" fill="#a0a0a0"/><rect x="1305" y="266" width="5" height="1" fill="#a0a0a0"/><rect x="1305" y="307" width="5" height="1" fill="#a0a0a0"/><rect x="1305" y="360" width="5" height="1" fill="#a0a0a0"/><rect x="1305" y="434" width="5" height="1" fill="#a0a0a0"/><rect x="1305" y="561" width="5" height="1" fill="#a0a0a0"/><rect x="1305" y="169" width="3" height="1" fill="#808080"/><rect x="1305" y="192" width="3" height="1" fill="#808080"/><rect x="1305" y="218" width="3" height="1" fill="#808080"/><rect x="1305" y="243" width="3" height="1" fill="#808080"/><rect x="1305" y="255" width="3" height="1" fill="#808080"/><rect x="1305" y="276" width="3" height="1" fill="#808080"/><rect x="1305" y="286" width="3" height="1" fill="#808080"/><rect x="1305" y="297" width="3" height="1" fill="#808080"/><rect x="1305" y="318" width="3" height="1" fill="#808080"/><rect x="1305" y="328" width="3" height="1" fill="#808080"/><rect x="1305" y="339" width="3" height="1" fill="#808080"/><rect x="1305" y="349" width="3" height="1" fill="#808080"/><rect x="1305" y="371" width="3" height="1" fill="#808080"/><rect x="1305" y="381" width="3" height="1" fill="#808080"/><rect x="1305" y="392" width="3" height="1" fill="#808080"/><rect x="1305" y="402" width="3" height="1" fill="#808080"/><rect x="1305" y="413" width="3" height="1" fill="#808080"/><rect x="1305" y="423" width="3" height="1" fill="#808080"/><rect x="1305" y="445" width="3" height="1" fill="#808080"/><rect x="1305" y="455" width="3" height="1" fill="#808080"/><rect x="1305" y="466" width="3" height="1" fill="#808080"/><rect x="1305" y="476" width="3" height="1" fill="#808080"/><rect x="1305" y="487" width="3" height="1" fill="#808080"/><rect x="1305" y="498" width="3" height="1" fill="#808080"/><rect x="1305" y="508" width="3" height="1" fill="#808080"/><rect x="1305" y="519" width="3" height="1" fill="#808080"/><rect x="1305" y="529" width="3" height="1" fill="#808080"/><rect x="1305" y="540" width="3" height="1" fill="#808080"/><rect x="1305" y="550" width="3" height="1" fill="#808080"/><rect x="1305" y="571" width="3" height="1" fill="#808080"/><rect x="1305" y="582" width="3" height="1" fill="#808080"/><rect x="1305" y="592" width="3" height="1" fill="#808080"/><rect x="1305" y="602" width="3" height="1" fill="#808080"/><rect x="1305" y="612" width="3" height="1" fill="#808080"/><rect x="1305" y="622" width="3" height="1" fill="#808080"/><rect x="1305" y="632" width="3" height="1" fill="#808080"/><rect x="1305" y="643" width="3" height="1" fill="#808080"/><rect x="1305" y="653" width="3" height="1" fill="#808080"/><rect x="1305" y="663" width="3" height="1" fill="#808080"/><rect x="1305" y="673" width="3" height="1" fill="#808080"/><rect x="1305" y="683" width="3" height="1" fill="#808080"/><rect x="1305" y="694" width="3" height="1" fill="#808080"/><rect x="1305" y="704" width="3" height="1" fill="#808080"/><rect x="1305" y="714" width="3" height="1" fill="#808080"/><rect x="1305" y="724" width="3" height="1" fill="#808080"/><rect x="1305" y="734" width="3" height="1" fill="#808080"/><rect x="1305" y="744" width="3" height="1" fill="#808080"/><rect x="1305" y="755" width="3" height="1" fill="#808080"/><rect x="1305" y="765" width="3" height="1" fill="#808080"/><rect x="1305" y="775" width="3" height="1" fill="#808080"/><rect x="1305" y="803" width="5" height="1" fill="#a0a0a0"/><rect x="1305" y="821" width="5" height="1" fill="#a0a0a0"/><rect x="1305" y="840" width="5" height="1" fill="#a0a0a0"/><rect x="1305" y="859" width="5" height="1" fill="#a0a0a0"/><rect x="1305" y="878" width="5" height="1" fill="#a0a0a0"/><rect x="1305" y="897" width="5" height="1" fill="#a0a0a0"/><rect x="1305" y="916" width="5" height="1" fill="#a0a0a0"/><rect x="1305" y="935" width="5" height="1" fill="#a0a0a0"/><rect x="1305" y="954" width="5" height="1" fill="#a0a0a0"/><rect x="1305" y="973" width="5" height="1" fill="#a0a0a0"/><rect x="1305" y="992" width="5" height="1" fill="#a0a0a0"/><rect x="1305" y="1010" width="5" height="1" fill="#a0a0a0"/><rect x="1305" y="1029" width="4" height="1" fill="#808080"/><rect x="0" y="31" width="1" height="1" fill="#c4c4c4"/><rect x="0" y="41" width="1" height="1" fill="#c4c4c4"/><rect x="0" y="53" width="1" height="1" fill="#c4c4c4"/><rect x="0" y="64" width="1" height="1" fill="#c4c4c4"/><rect x="0" y="77" width="1" height="1" fill="#c4c4c4"/><rect x="0" y="91" width="1" height="1" fill="#c4c4c4"/><rect x="0" y="105" width="1" height="1" fill="#c4c4c4"/><rect x="0" y="121" width="1" height="1" fill="#c4c4c4"/><rect x="0" y="139" width="1" height="1" fill="#c4c4c4"/><rect x="0" y="158" width="1" height="1" fill="#c4c4c4"/><rect x="0" y="180" width="1" height="1" fill="#c4c4c4"/><rect x="0" y="204" width="1" height="1" fill="#c4c4c4"/><rect x="0" y="232" width="1" height="1" fill="#c4c4c4"/><rect x="0" y="266" width="1" height="1" fill="#c4c4c4"/><rect x="0" y="307" width="1" height="1" fill="#c4c4c4"/><rect x="0" y="360" width="1" height="1" fill="#c4c4c4"/><rect x="0" y="434" width="1" height="1" fill="#c4c4c4"/><rect x="0" y="561" width="1" height="1" fill="#c4c4c4"/><rect x="0" y="803" width="1" height="1" fill="#c4c4c4"/><rect x="0" y="821" width="1" height="1" fill="#c4c4c4"/><rect x="0" y="840" width="1" height="1" fill="#c4c4c4"/><rect x="0" y="859" width="1" height="1" fill="#c4c4c4"/><rect x="0" y="878" width="1" height="1" fill="#c4c4c4"/><rect x="0" y="897" width="1" height="1" fill="#c4c4c4"/><rect x="0" y="916" width="1" height="1" fill="#c4c4c4"/><rect x="0" y="935" width="1" height="1" fill="#c4c4c4"/><rect x="0" y="954" width="1" height="1" fill="#c4c4c4"/><rect x="0" y="973" width="1" height="1" fill="#c4c4c4"/><rect x="0" y="992" width="1" height="1" fill="#c4c4c4"/><rect x="0" y="1010" width="1" height="1" fill="#c4c4c4"/><rect x="9" y="14" width="1" height="1" fill="#c4c4c4"/><rect x="9" y="770" width="1" height="1" fill="#c4c4c4"/><rect x="9" y="784" width="1" height="1" fill="#c4c4c4"/><rect x="9" y="1025" width="1" height="1" fill="#c4c4c4"/><rect x="79" y="14" width="1" height="1" fill="#c4c4c4"/><rect x="79" y="770" width="1" height="1" fill="#c4c4c4"/><rect x="79" y="784" width="1" height="1" fill="#c4c4c4"/><rect x="79" y="1025" width="1" height="1" fill="#c4c4c4"/><rect x="289" y="14" width="1" height="1" fill="#c4c4c4"/><rect x="289" y="770" width="1" height="1" fill="#c4c4c4"/><rect x="289" y="784" width="1" height="1" fill="#c4c4c4"/><rect x="289" y="1025" width="1" height="1" fill="#c4c4c4"/><rect x="500" y="14" width="1" height="1" fill="#c4c4c4"/><rect x="500" y="770" width="1" height="1" fill="#c4c4c4"/><rect x="500" y="784" width="1" height="1" fill="#c4c4c4"/><rect x="500" y="1025" width="1" height="1" fill="#c4c4c4"/><rect x="710" y="14" width="1" height="1" fill="#c4c4c4"/><rect x="710" y="770" width="1" height="1" fill="#c4c4c4"/><rect x="710" y="784" width="1" height="1" fill="#c4c4c4"/><rect x="710" y="1025" width="1" height="1" fill="#c4c4c4"/><rect x="921" y="14" width="1" height="1" fill="#c4c4c4"/><rect x="921" y="770" width="1" height="1" fill="#c4c4c4"/><rect x="921" y="784" width="1" height="1" fill="#c4c4c4"/><rect x="921" y="1025" width="1" height="1" fill="#c4c4c4"/><rect x="1131" y="14" width="1" height="1" fill="#c4c4c4"/><rect x="1131" y="770" width="1" height="1" fill="#c4c4c4"/><rect x="1131" y="784" width="1" height="1" fill="#c4c4c4"/><rect x="1131" y="1025" width="1" height="1" fill="#c4c4c4"/></g><text x="0" y="0" fill="#000" font-size="11" font-weight="bold" font-family="Liberation Sans, sans-serif" letter-spacing="0.6" transform="translate(2.3,11) scale(1.17,1)">(TAL)</text><text x="4.8" y="25.5" fill="#008000" font-size="10" text-anchor="start" font-family="Liberation Sans, sans-serif" letter-spacing="0.3">TAL</text><text x="29.6" y="25.5" fill="#2a00ff" font-size="10" text-anchor="start" font-family="Liberation Sans, sans-serif" letter-spacing="0.3">MA(3)</text><text x="65.8" y="25.5" fill="#2a00ff" font-size="10" text-anchor="start" font-family="Liberation Sans, sans-serif" letter-spacing="0.7">11.20</text><text x="1311.1" y="45" fill="#000" font-size="11" text-anchor="start" font-family="Liberation Sans, sans-serif" letter-spacing="1.4">85.00</text><text x="1311.1" y="68" fill="#000" font-size="11" text-anchor="start" font-family="Liberation Sans, sans-serif" letter-spacing="1.4">75.00</text><text x="1311.1" y="95" fill="#000" font-size="11" text-anchor="start" font-family="Liberation Sans, sans-serif" letter-spacing="1.4">65.00</text><text x="1311.1" y="109" fill="#000" font-size="11" text-anchor="start" font-family="Liberation Sans, sans-serif" letter-spacing="1.4">60.00</text><text x="1311.1" y="125" fill="#000" font-size="11" text-anchor="start" font-family="Liberation Sans, sans-serif" letter-spacing="1.4">55.00</text><text x="1311.1" y="143" fill="#000" font-size="11" text-anchor="start" font-family="Liberation Sans, sans-serif" letter-spacing="1.4">50.00</text><text x="1311.1" y="162" fill="#000" font-size="11" text-anchor="start" font-family="Liberation Sans, sans-serif" letter-spacing="1.4">45.00</text><text x="1311.1" y="184" fill="#000" font-size="11" text-anchor="start" font-family="Liberation Sans, sans-serif" letter-spacing="1.4">40.00</text><text x="1311.1" y="208" fill="#000" font-size="11" text-anchor="start" font-family="Liberation Sans, sans-serif" letter-spacing="1.4">35.00</text><text x="1311.1" y="236" fill="#000" font-size="11" text-anchor="start" font-family="Liberation Sans, sans-serif" letter-spacing="1.4">30.00</text><text x="1311.1" y="270" fill="#000" font-size="11" text-anchor="start" font-family="Liberation Sans, sans-serif" letter-spacing="1.4">25.00</text><text x="1311.1" y="311" fill="#000" font-size="11" text-anchor="start" font-family="Liberation Sans, sans-serif" letter-spacing="1.4">20.00</text><text x="1311.1" y="364" fill="#000" font-size="11" text-anchor="start" font-family="Liberation Sans, sans-serif" letter-spacing="1.4">15.00</text><text x="1311.1" y="438" fill="#000" font-size="11" text-anchor="start" font-family="Liberation Sans, sans-serif" letter-spacing="1.4">10.00</text><text x="1311.1" y="565" fill="#000" font-size="11" text-anchor="start" font-family="Liberation Sans, sans-serif" letter-spacing="1.4">5.00</text><text x="1311.1" y="806" fill="#000" font-size="11" text-anchor="start" font-family="Liberation Sans, sans-serif" letter-spacing="1.4">6.000</text><text x="1311.1" y="825" fill="#000" font-size="11" text-anchor="start" font-family="Liberation Sans, sans-serif" letter-spacing="1.4">4.000</text><text x="1311.1" y="844" fill="#000" font-size="11" text-anchor="start" font-family="Liberation Sans, sans-serif" letter-spacing="1.4">2.000</text><text x="1311.1" y="863" fill="#000" font-size="11" text-anchor="start" font-family="Liberation Sans, sans-serif" letter-spacing="1.4">0.000</text><text x="1311.1" y="882" fill="#000" font-size="11" text-anchor="start" font-family="Liberation Sans, sans-serif" letter-spacing="1.4">-2.000</text><text x="1311.1" y="901" fill="#000" font-size="11" text-anchor="start" font-family="Liberation Sans, sans-serif" letter-spacing="1.4">-4.000</text><text x="1311.1" y="920" fill="#000" font-size="11" text-anchor="start" font-family="Liberation Sans, sans-serif" letter-spacing="1.4">-6.000</text><text x="1311.1" y="939" fill="#000" font-size="11" text-anchor="start" font-family="Liberation Sans, sans-serif" letter-spacing="1.4">-8.000</text><text x="1311.1" y="958" fill="#000" font-size="11" text-anchor="start" font-family="Liberation Sans, sans-serif" letter-spacing="1.4">-10.000</text><text x="1311.1" y="977" fill="#000" font-size="11" text-anchor="start" font-family="Liberation Sans, sans-serif" letter-spacing="1.4">-12.000</text><text x="1311.1" y="996" fill="#000" font-size="11" text-anchor="start" font-family="Liberation Sans, sans-serif" letter-spacing="1.4">-14.000</text><text x="1311.1" y="1014" fill="#000" font-size="11" text-anchor="start" font-family="Liberation Sans, sans-serif" letter-spacing="1.4">-16.000</text><text x="2.3" y="781" fill="#000" font-size="11" text-anchor="start" font-family="Liberation Sans, sans-serif" letter-spacing="1.2">2019</text><text x="2.3" y="1036" fill="#000" font-size="11" text-anchor="start" font-family="Liberation Sans, sans-serif" letter-spacing="1.2">2019</text><text x="65.6" y="781" fill="#000" font-size="11" text-anchor="start" font-family="Liberation Sans, sans-serif" letter-spacing="1.2">2020</text><text x="65.6" y="1036" fill="#000" font-size="11" text-anchor="start" font-family="Liberation Sans, sans-serif" letter-spacing="1.2">2020</text><text x="275.6" y="781" fill="#000" font-size="11" text-anchor="start" font-family="Liberation Sans, sans-serif" letter-spacing="1.2">2021</text><text x="275.6" y="1036" fill="#000" font-size="11" text-anchor="start" font-family="Liberation Sans, sans-serif" letter-spacing="1.2">2021</text><text x="486.6" y="781" fill="#000" font-size="11" text-anchor="start" font-family="Liberation Sans, sans-serif" letter-spacing="1.2">2022</text><text x="486.6" y="1036" fill="#000" font-size="11" text-anchor="start" font-family="Liberation Sans, sans-serif" letter-spacing="1.2">2022</text><text x="696.6" y="781" fill="#000" font-size="11" text-anchor="start" font-family="Liberation Sans, sans-serif" letter-spacing="1.2">2023</text><text x="696.6" y="1036" fill="#000" font-size="11" text-anchor="start" font-family="Liberation Sans, sans-serif" letter-spacing="1.2">2023</text><text x="907.6" y="781" fill="#000" font-size="11" text-anchor="start" font-family="Liberation Sans, sans-serif" letter-spacing="1.2">2024</text><text x="907.6" y="1036" fill="#000" font-size="11" text-anchor="start" font-family="Liberation Sans, sans-serif" letter-spacing="1.2">2024</text><text x="1117.6" y="781" fill="#000" font-size="11" text-anchor="start" font-family="Liberation Sans, sans-serif" letter-spacing="1.2">2025</text><text x="1117.6" y="1036" fill="#000" font-size="11" text-anchor="start" font-family="Liberation Sans, sans-serif" letter-spacing="1.2">2025</text><text x="4.8" y="795.5" fill="#000" font-size="10" text-anchor="start" font-family="Liberation Sans, sans-serif" letter-spacing="0.3">MACD(26,12,9)</text><text x="87.3" y="795.5" fill="#2a00ff" font-size="10" text-anchor="start" font-family="Liberation Sans, sans-serif" letter-spacing="0.05">MACD:0.482</text><text x="1275.5" y="1052" fill="#000" font-size="11" text-anchor="start" font-family="Liberation Sans, sans-serif" letter-spacing="0.65">©12Stocks.com</text><g shape-rendering="crispEdges"><rect x="1304.5" y="404.5" width="40" height="14" fill="#b0f7b0" stroke="#000" stroke-width="1"/></g><text x="1310" y="415" fill="#000" font-size="11" font-family="Liberation Sans, sans-serif" letter-spacing="1.4">11.78</text></svg></body></html>
